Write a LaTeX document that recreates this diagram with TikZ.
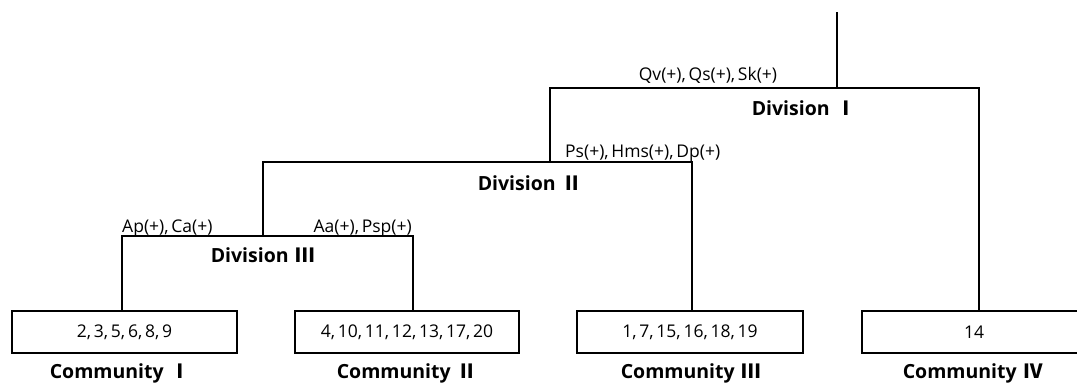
\documentclass[tikz,border=0pt]{standalone}
\usepackage{fontspec}
\setmainfont{Open Sans}[WordSpace=0.6]
\newfontfamily\krf{Noto Sans CJK KR}
\newcommand{\rn}[1]{\hspace{7pt}{\krf\bfseries #1}}
\begin{document}
\begin{tikzpicture}[x=1pt,y=-1pt,
  line/.style={line width=2.2pt, line join=miter},
  combox/.style={draw, line width=2.4pt, minimum height=42pt, inner sep=0pt, font=\fontsize{17.5}{19}\selectfont},
  sig/.style={inner sep=0pt, font=\fontsize{17.5}{19}\selectfont},
  divlab/.style={inner sep=0pt, font=\fontsize{19.5}{21}\selectfont\bfseries},
  comlab/.style={inner sep=0pt, font=\fontsize{19.5}{21}\selectfont\bfseries}]
\useasboundingbox (0,0) rectangle (1077,383);
\clip (0,0) rectangle (1077,383);
% community boxes
\node[combox, minimum width=225pt] (b1) at (124.5,332) {2, 3, 5, 6, 8, 9};
\node[combox, minimum width=224pt] (b2) at (407,332) {4, 10, 11, 12, 13, 17, 20};
\node[combox, minimum width=226pt] (b3) at (690,332) {1, 7, 15, 16, 18, 19};
\node[combox, minimum width=224pt] (b4) at (974,332) {14};
% community labels
\node[comlab] (c1) at (120,373) {Community\rn{Ⅰ}};
\node[comlab] (c2) at (407,373) {Community\rn{Ⅱ}};
\node[comlab] (c3) at (691,373) {Community\rn{Ⅲ}};
\node[comlab] (c4) at (973,373) {Community\rn{Ⅳ}};
% tree coordinates
\coordinate (top) at (837,12);
\coordinate (j1) at (837,88);
\coordinate (d1l) at (550,88);
\coordinate (d1r) at (979,88);
\coordinate (j2) at (550,162);
\coordinate (d2l) at (263,162);
\coordinate (d2r) at (692,162);
\coordinate (j3) at (263,236);
\coordinate (d3l) at (122,236);
\coordinate (d3r) at (413,236);
% connectors
\draw[line] (top) -- (j1);
\draw[line] (j2) -- (d1l) -- (d1r) -- (b4.north -| d1r);
\draw[line] (j3) -- (d2l) -- (d2r) -- (b3.north -| d2r);
\draw[line] (b1.north -| d3l) -- (d3l) -- (d3r) -- (b2.north -| d3r);
% labels
\node[sig, anchor=base] (s1) at (708,80) {Qv(+), Qs(+), Sk(+)};
\node[divlab] (v1) at (804,108) {Division\rn{Ⅰ}};
\node[sig, anchor=base west] (s2) at (565,157) {Ps(+), Hms(+), Dp(+)};
\node[divlab] (v2) at (530,183) {Division\rn{Ⅱ}};
\node[sig, anchor=base west] (s3) at (122,232) {Ap(+), Ca(+)};
\node[sig, anchor=base east] (s4) at (412,232) {Aa(+), Psp(+)};
\node[divlab] (v3) at (263,255) {Division\rn{Ⅲ}};
\end{tikzpicture}
\end{document}
